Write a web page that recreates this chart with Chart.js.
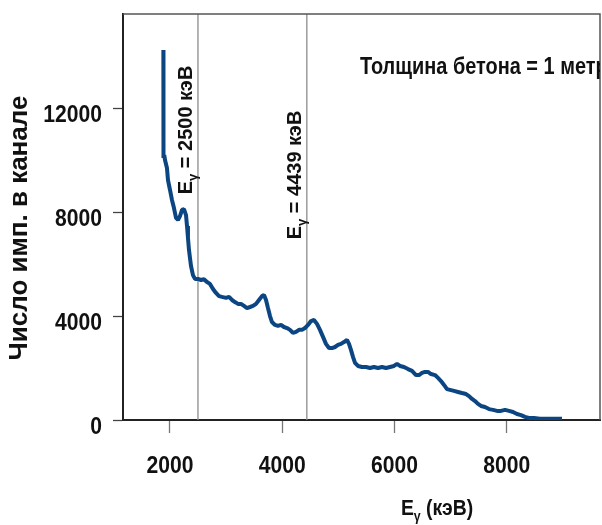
<!DOCTYPE html>
<html>
<head>
<meta charset="utf-8">
<script src="https://cdn.jsdelivr.net/npm/chart.js@4.4.1/dist/chart.umd.min.js"></script>
<style>
  html, body { margin: 0; padding: 0; background: #fff; }
  #wrap { width: 602px; height: 525px; }
</style>
</head>
<body>
<div id="wrap"><canvas id="spectrumChart" width="602" height="525"></canvas></div>
<script>
// gamma spectrum behind 1 m of concrete: energy (keV) vs counts per channel
const energy = [
  1884, 1886, 1900, 1913, 1948, 1966, 2002, 2037, 2073, 2109,
  2144, 2180, 2216, 2251, 2287, 2305, 2322, 2340, 2358, 2376,
  2411, 2447, 2501, 2554, 2607, 2661, 2714, 2768, 2821, 2875,
  2928, 2999, 3053, 3106, 3159, 3213, 3266, 3320, 3373, 3427,
  3480, 3534, 3587, 3640, 3676, 3712, 3747, 3783, 3818, 3872,
  3925, 3979, 4032, 4086, 4139, 4192, 4246, 4299, 4353, 4406,
  4460, 4513, 4566, 4620, 4673, 4727, 4780, 4834, 4887, 4941,
  4994, 5047, 5101, 5154, 5190, 5225, 5261, 5297, 5350, 5421,
  5493, 5564, 5635, 5706, 5778, 5849, 5920, 5991, 6045, 6098,
  6169, 6241, 6312, 6383, 6437, 6490, 6543, 6597, 6650, 6721,
  6775, 6828, 6882, 6935, 6989, 7060, 7131, 7202, 7274, 7327,
  7381, 7434, 7487, 7541, 7612, 7683, 7755, 7826, 7897, 7968,
  8040, 8111, 8182, 8253, 8324, 8396, 8485, 8591, 8770, 8983
];
const counts = [
  14240, 10090, 10200, 10010, 9700, 9240, 8855, 8470, 8160, 7780,
  7700, 7850, 8090, 8120, 7890, 7470, 7010, 6550, 6240, 5930,
  5580, 5430, 5430, 5390, 5420, 5310, 5240, 5040, 4890, 4770,
  4740, 4700, 4740, 4620, 4540, 4470, 4470, 4390, 4310, 4350,
  4390, 4470, 4620, 4770, 4810, 4620, 4310, 4000, 3770, 3660,
  3620, 3660, 3580, 3540, 3470, 3350, 3390, 3470, 3470, 3540,
  3660, 3810, 3850, 3700, 3470, 3200, 2930, 2770, 2770, 2810,
  2890, 2930, 3000, 3080, 2930, 2700, 2430, 2200, 2080, 2040,
  2040, 2000, 2040, 2000, 2040, 2000, 2040, 2080, 2160, 2080,
  2040, 1960, 1890, 1730, 1730, 1810, 1850, 1850, 1770, 1730,
  1620, 1500, 1350, 1190, 1160, 1120, 1080, 1040, 1000, 920,
  810, 730, 620, 540, 500, 420, 390, 350, 350, 390,
  350, 310, 230, 190, 120, 80, 80, 50, 50, 50
];
const xTicks = [2000, 4000, 6000, 8000];
const yTicks = [0, 4000, 8000, 12000];
const xRange = [1165, 9660];
const yRange = [0, 15630];
const markerEnergies = [2500, 4439];
const markerCenters = [130, 175];   // vertical centre of each rotated label, px

const FONT = "'Liberation Sans', Arial, sans-serif";

// text drawn with an optional horizontal squeeze and rotation
function putText(ctx, text, x, y, o) {
  ctx.save();
  ctx.translate(x, y);
  ctx.scale(o.sx || 1, 1);
  if (o.rot) ctx.rotate(o.rot);
  ctx.font = o.font;
  ctx.fillStyle = '#111';
  ctx.textAlign = o.align || 'left';
  ctx.textBaseline = o.baseline || 'alphabetic';
  ctx.fillText(text, 0, 0);
  ctx.restore();
}

// "Eγ" + rest, centred on the origin, baseline at y = 0
function drawEgamma(ctx, rest, size) {
  const sub = Math.round(size * 0.65);
  ctx.font = `bold ${size}px ${FONT}`;
  const wE = ctx.measureText('E').width;
  const wR = ctx.measureText(rest).width;
  ctx.font = `bold ${sub}px ${FONT}`;
  const wG = ctx.measureText('γ').width;
  let x = -(wE + wG + wR) / 2;
  ctx.fillStyle = '#111';
  ctx.textAlign = 'left';
  ctx.textBaseline = 'alphabetic';
  ctx.font = `bold ${size}px ${FONT}`;
  ctx.fillText('E', x, 0);
  x += wE;
  ctx.font = `bold ${sub}px ${FONT}`;
  ctx.fillText('γ', x, size * 0.25);
  x += wG;
  ctx.font = `bold ${size}px ${FONT}`;
  ctx.fillText(rest, x, 0);
}

const framePlugin = {
  id: 'frame',
  afterDraw(chart) {
    const {ctx, chartArea: a, scales: {x, y}} = chart;

    // top and right sides of the box
    ctx.save();
    ctx.strokeStyle = '#555';
    ctx.lineWidth = 1.5;
    ctx.beginPath();
    ctx.moveTo(a.left, a.top);
    ctx.lineTo(a.right, a.top);
    ctx.lineTo(a.right, a.bottom);
    ctx.stroke();
    ctx.restore();

    // tick labels
    yTicks.forEach(v => {
      putText(ctx, String(v), 102, y.getPixelForValue(v) + 14,
        {font: `bold 24px ${FONT}`, sx: 0.88, align: 'right'});
    });
    xTicks.forEach(v => {
      putText(ctx, String(v), x.getPixelForValue(v), 473,
        {font: `bold 24px ${FONT}`, sx: 0.88, align: 'center'});
    });

    // axis titles
    putText(ctx, 'Число имп. в канале', 27, 228,
      {font: `bold 26px ${FONT}`, rot: -Math.PI / 2, align: 'center'});
    ctx.save();
    ctx.translate(437, 515);
    ctx.scale(0.88, 1);
    drawEgamma(ctx, ' (кэВ)', 22);
    ctx.restore();

    // labels beside the marker lines
    markerEnergies.forEach((e, i) => {
      ctx.save();
      ctx.translate(x.getPixelForValue(e) - 6, markerCenters[i]);
      ctx.rotate(-Math.PI / 2);
      drawEgamma(ctx, ` = ${e} кэВ`, 20);
      ctx.restore();
    });

    // thickness note, cut off by the right side of the box
    ctx.save();
    ctx.beginPath();
    ctx.rect(a.left, a.top, a.right - a.left, a.bottom - a.top);
    ctx.clip();
    putText(ctx, 'Толщина бетона = 1 метр', 360, 74,
      {font: `bold 24px ${FONT}`, sx: 0.83});
    ctx.restore();
  }
};

const spectrum = energy.map((e, i) => ({x: e, y: counts[i]}));
const markerSets = markerEnergies.map(e => ({
  data: [{x: e, y: yRange[0]}, {x: e, y: yRange[1]}],
  borderColor: '#8c8c8c',
  borderWidth: 1.3,
  pointRadius: 0
}));

new Chart(document.getElementById('spectrumChart'), {
  type: 'line',
  data: {
    datasets: [{
      data: spectrum,
      borderColor: '#0b4683',
      borderWidth: 4,
      borderJoinStyle: 'bevel',
      borderCapStyle: 'butt',
      pointRadius: 0,
      tension: 0
    }, ...markerSets]
  },
  options: {
    responsive: false,
    animation: false,
    layout: {padding: {top: 14, right: 2, left: 0, bottom: 0}},
    plugins: {
      legend: {display: false},
      tooltip: {enabled: false}
    },
    scales: {
      x: {
        type: 'linear',
        min: xRange[0],
        max: xRange[1],
        afterBuildTicks: s => { s.ticks = xTicks.map(v => ({value: v})); },
        afterFit: s => { s.height = 105; },
        ticks: {display: false},
        grid: {drawOnChartArea: false, tickLength: 13, tickColor: '#777', tickWidth: 1.3},
        border: {color: '#222', width: 2}
      },
      y: {
        min: yRange[0],
        max: yRange[1],
        afterBuildTicks: s => { s.ticks = yTicks.map(v => ({value: v})); },
        afterFit: s => { s.width = 123; },
        ticks: {display: false},
        grid: {drawOnChartArea: false, tickLength: 10, tickColor: '#444', tickWidth: 1.3},
        border: {color: '#222', width: 2}
      }
    }
  },
  plugins: [framePlugin]
});
</script>
</body>
</html>
